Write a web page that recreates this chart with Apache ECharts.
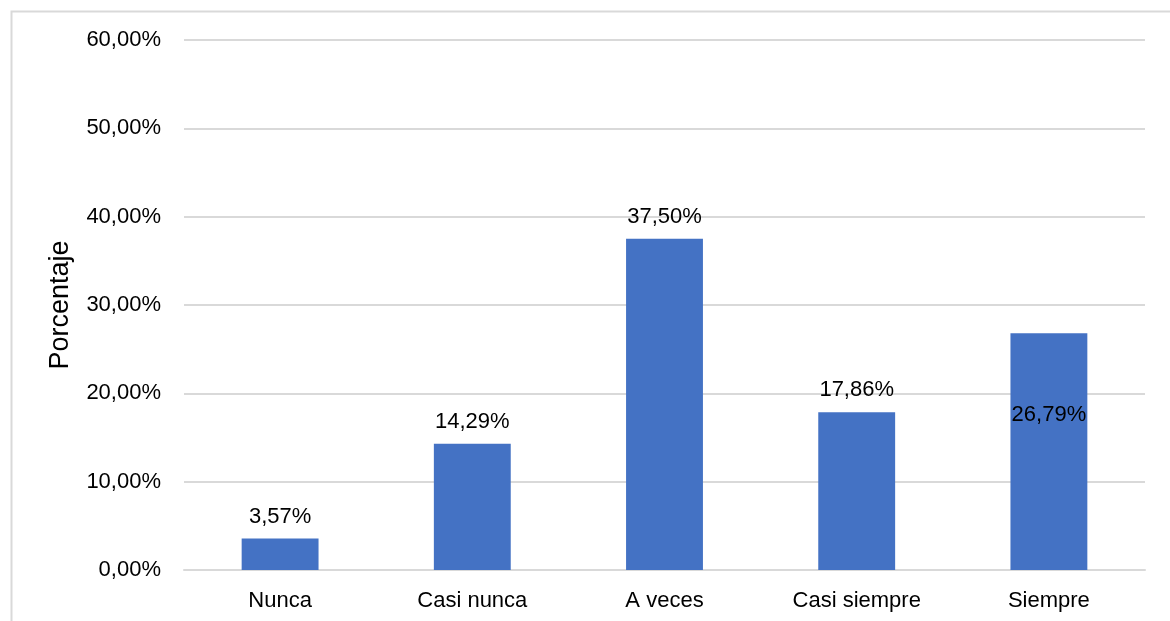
<!DOCTYPE html>
<html>
<head>
<meta charset="utf-8">
<script src="https://cdn.jsdelivr.net/npm/echarts@6/dist/echarts.min.js"></script>
<style>html,body{margin:0;padding:0;background:#fff;}#c{width:1170px;height:621px;}</style>
</head>
<body>
<div id="c"></div>
<script>
const categories = ["Nunca", "Casi nunca", "A veces", "Casi siempre", "Siempre"];
const values = [3.57, 14.29, 37.50, 17.86, 26.79];
const yTicks = [0, 10, 20, 30, 40, 50, 60];

const fmt = v => v.toFixed(2).replace('.', ',') + '%';
const font = 'Liberation Sans, Arial, sans-serif';

const chart = echarts.init(document.getElementById('c'), null, {renderer: 'canvas'});
chart.setOption({
  animation: false,
  backgroundColor: '#ffffff',
  graphic: [{
    type: 'rect', left: 9, top: 9,
    shape: {width: 1200, height: 700},
    style: {fill: 'none', stroke: '#d9d9d9', lineWidth: 2}
  }],
  grid: {left: 184, right: 25, top: 40, bottom: 51},
  xAxis: {
    type: 'category',
    data: categories,
    axisLine: {show: true, lineStyle: {color: '#d9d9d9', width: 2}},
    axisTick: {show: false},
    axisLabel: {color: '#000', fontFamily: font, fontSize: 22, margin: 20}
  },
  yAxis: {
    type: 'value',
    min: yTicks[0], max: yTicks[yTicks.length - 1], interval: 10,
    name: 'Porcentaje',
    nameLocation: 'middle',
    nameGap: 110,
    nameTextStyle: {color: '#000', fontFamily: font, fontSize: 27},
    axisLine: {show: false},
    axisTick: {show: false},
    splitLine: {lineStyle: {color: '#d9d9d9', width: 2}},
    axisLabel: {color: '#000', fontFamily: font, fontSize: 22, margin: 23, formatter: v => fmt(v)}
  },
  series: [{
    type: 'bar',
    barWidth: '40%',
    itemStyle: {color: '#4472C4'},
    data: values.map((v, i) => i === 4 ? {
      value: v,
      label: {position: ['50%', 82], align: 'center', verticalAlign: 'middle'}
    } : v),
    label: {
      show: true, position: 'top', distance: 11,
      color: '#000', fontFamily: font, fontSize: 22,
      formatter: p => fmt(p.value)
    }
  }]
});
</script>
</body>
</html>
